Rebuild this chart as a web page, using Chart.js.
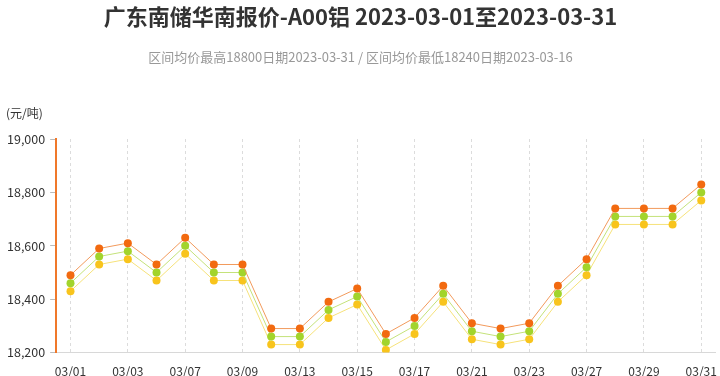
<!DOCTYPE html>
<html>
<head>
<meta charset="utf-8">
<script src="https://cdn.jsdelivr.net/npm/chart.js@4/dist/chart.umd.min.js"></script>
<style>
  html, body { margin: 0; padding: 0; background: #fff; overflow: hidden; }
  #wrap { width: 720px; height: 382px; }
</style>
</head>
<body>
<div id="wrap"><canvas id="myChart"></canvas></div>
<script>
const FONT = "'Microsoft YaHei', 'Noto Sans CJK SC', sans-serif";

// trading days, March 2023
const dates = [
  "03/01", "03/02", "03/03", "03/06", "03/07", "03/08", "03/09", "03/10",
  "03/13", "03/14", "03/15", "03/16", "03/17", "03/20", "03/21", "03/22",
  "03/23", "03/24", "03/27", "03/28", "03/29", "03/30", "03/31",
];
const highPrice = [
  18490, 18590, 18610, 18530, 18630, 18530, 18530, 18290,
  18290, 18390, 18440, 18270, 18330, 18450, 18310, 18290,
  18310, 18450, 18550, 18740, 18740, 18740, 18830,
];
const avgPrice = [
  18460, 18560, 18580, 18500, 18600, 18500, 18500, 18260,
  18260, 18360, 18410, 18240, 18300, 18420, 18280, 18260,
  18280, 18420, 18520, 18710, 18710, 18710, 18800,
];
const lowPrice = [
  18430, 18530, 18550, 18470, 18570, 18470, 18470, 18230,
  18230, 18330, 18380, 18210, 18270, 18390, 18250, 18230,
  18250, 18390, 18490, 18680, 18680, 18680, 18770,
];
const yTicks = [18200, 18400, 18600, 18800, 19000];

const title = "广东南储华南报价-A00铝 2023-03-01至2023-03-31";
const subtitle = "区间均价最高18800日期2023-03-31 / 区间均价最低18240日期2023-03-16";

function series(label, values, dot, line) {
  return {
    label: label,
    data: values,
    borderColor: line,
    borderWidth: 1,
    pointBackgroundColor: dot,
    pointBorderColor: dot,
    pointBorderWidth: 0,
    pointRadius: 4,
    tension: 0,
  };
}

// unit label above the value axis
const unitLabel = {
  id: "unitLabel",
  afterDraw(chart) {
    const ctx = chart.ctx;
    ctx.save();
    ctx.font = "12px " + FONT;
    ctx.fillStyle = "#333";
    ctx.textBaseline = "middle";
    ctx.fillText("(元/吨)", 6, chart.chartArea.top - 26);
    ctx.restore();
  },
};

const config = {
  type: "line",
  data: {
    labels: dates,
    datasets: [
      series("最高价", highPrice, "#f26a10", "#f29a5c"),
      series("均价", avgPrice, "#a2d42c", "#c4e27a"),
      series("最低价", lowPrice, "#f8c41c", "#f6e27a"),
    ],
  },
  options: {
    responsive: true,
    maintainAspectRatio: false,
    animation: false,
    layout: { padding: { left: 2, right: 1, top: 0, bottom: 0 } },
    plugins: {
      legend: { display: false },
      tooltip: { enabled: false },
      title: {
        display: true,
        text: title,
        color: "#333",
        font: { family: FONT, size: 22, weight: "bold" },
        padding: { top: 3, bottom: 0 },
      },
      subtitle: {
        display: true,
        text: subtitle,
        color: "#999",
        font: { family: FONT, size: 13 },
        padding: { top: 20, bottom: 74 },
      },
    },
    scales: {
      x: {
        offset: true,
        grid: {
          offset: false,
          color: (c) => (c.index % 2 === 0 ? "#dcdcdc" : "transparent"),
          lineWidth: 1,
          tickColor: "transparent",
          tickLength: 9,
        },
        border: { color: "#d8d8d8", width: 1, dash: [3, 3] },
        ticks: {
          autoSkip: false,
          maxRotation: 0,
          padding: 3,
          color: "#333",
          font: { family: FONT, size: 12 },
          callback: function (v, i) { return i % 2 === 0 ? this.getLabelForValue(v) : ""; },
        },
      },
      y: {
        min: yTicks[0],
        max: yTicks[yTicks.length - 1],
        afterBuildTicks: (axis) => { axis.ticks = yTicks.map((v) => ({ value: v })); },
        grid: {
          drawOnChartArea: false,
          tickColor: "#bbb",
          tickLength: 6,
        },
        border: { color: "#f0782a", width: 2 },
        ticks: {
          padding: 5,
          color: "#333",
          font: { family: FONT, size: 12.5 },
          callback: (v) => v.toLocaleString("en-US"),
        },
      },
    },
  },
  plugins: [unitLabel],
};

const ctx = document.getElementById("myChart");
const myChart = new Chart(ctx, config);
</script>
</body>
</html>
